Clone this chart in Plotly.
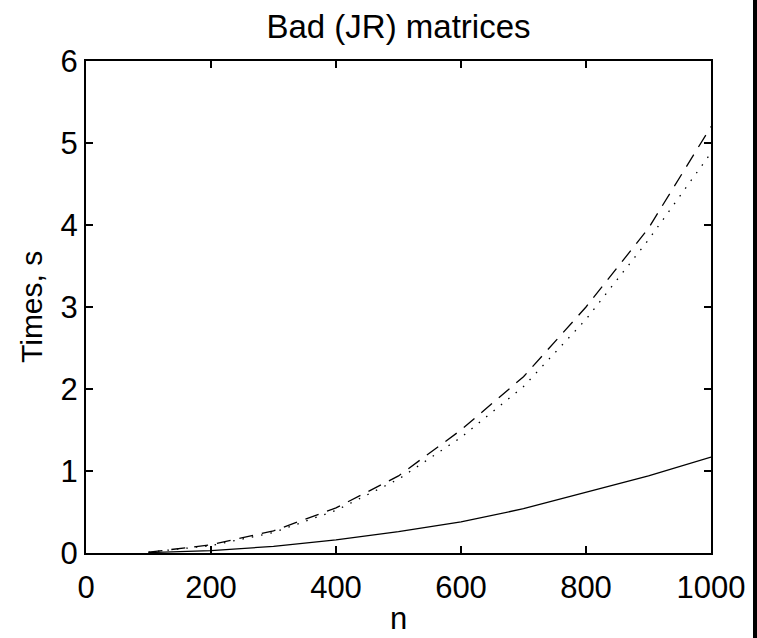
import plotly.graph_objects as go

# Data
n = [100, 200, 300, 400, 500, 600, 700, 800, 900, 1000]
t_solid = [0.005, 0.03, 0.08, 0.16, 0.26, 0.38, 0.54, 0.74, 0.94, 1.17]
t_dashed = [0.01, 0.10, 0.27, 0.55, 0.94, 1.50, 2.15, 3.00, 3.96, 5.20]
t_dotted = [0.01, 0.09, 0.25, 0.52, 0.90, 1.41, 2.03, 2.85, 3.82, 4.88]

font = 'Liberation Sans, Arial, sans-serif'
fsize = 31

W, H = 757, 638
L, T, R, B = 86, 61, 46, 85
PW, PH = W - L - R, H - T - B

fig = go.Figure()

fig.add_trace(go.Scatter(x=n, y=t_solid, mode='lines',
                         line=dict(color='black', width=1.3)))
fig.add_trace(go.Scatter(x=n, y=t_dashed, mode='lines',
                         line=dict(color='black', width=1.3, dash='14px,9px')))
fig.add_trace(go.Scatter(x=n, y=t_dotted, mode='lines',
                         line=dict(color='black', width=1.3, dash='1.5px,8px')))

axis_style = dict(
    showline=True, linecolor='black', linewidth=2, mirror='ticks',
    ticks='inside', ticklen=7, tickwidth=1.5, tickcolor='black',
    showgrid=False, zeroline=False, automargin=False,
    tickfont=dict(family=font, size=fsize, color='black'),
)

# black strip along the right edge of the page (two pieces: beside and below the axes)
strip_x0, strip_x1 = (753 - L) / PW, (W + 10 - L) / PW
strip = dict(type='rect', xref='paper', yref='paper', x0=strip_x0, x1=strip_x1,
             fillcolor='black', line=dict(width=0), layer='above')

fig.update_layout(
    width=W, height=H,
    margin=dict(l=L, r=R, t=T, b=B),
    paper_bgcolor='white', plot_bgcolor='white',
    showlegend=False,
    title=dict(text='Bad (JR) matrices', x=(L + PW / 2) / W, xanchor='center',
               xref='container', yref='container',
               y=1 - 26 / H, yanchor='middle',
               font=dict(family=font, size=33, color='black')),
    xaxis=dict(range=[0, 1000], tickvals=[0, 200, 400, 600, 800, 1000],
               ticklabelstandoff=6, **axis_style),
    yaxis=dict(range=[0, 6], tickvals=[0, 1, 2, 3, 4, 5, 6],
               **axis_style),
    annotations=[
        dict(text='n', xref='paper', yref='paper', x=0.5, y=-B / PH,
             xanchor='center', yanchor='bottom', showarrow=False,
             font=dict(family=font, size=fsize, color='black')),
        dict(text='Times, s', xref='paper', yref='paper', x=-55 / PW, y=0.5,
             xanchor='center', yanchor='middle', showarrow=False, textangle=-90,
             font=dict(family=font, size=30, color='black')),
    ],
    shapes=[dict(strip, y0=0, y1=(PH + T + 10) / PH),
            dict(strip, y0=-(B + 10) / PH, y1=0.01)],
)

# drop the default 8px body margin so the figure fills the window
fig.write_html("out.html",
               config={'displayModeBar': False},
               post_script="document.body.style.margin='0';"
                           "document.body.style.overflow='hidden';")
